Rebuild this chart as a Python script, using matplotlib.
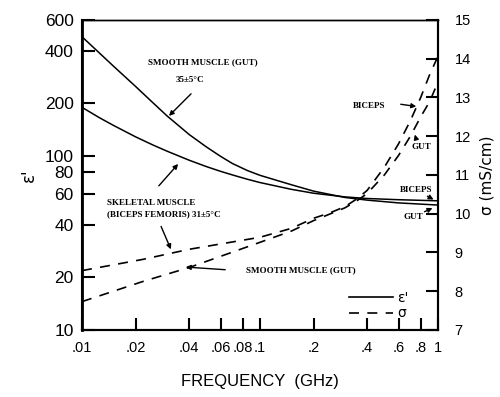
import matplotlib
matplotlib.use('Agg')
import matplotlib.pyplot as plt
from matplotlib.lines import Line2D

# permittivity eps' (left, log axis)
eps_freq = [0.01, 0.0125, 0.015, 0.02, 0.025, 0.03, 0.04, 0.05, 0.06,
            0.07, 0.085, 0.1, 0.15, 0.2, 0.3, 0.4, 0.6, 1.0]
eps_gut = [480, 388, 326, 249, 201, 169, 132, 112, 99,
           90, 82, 77, 68, 62.5, 57.5, 55.5, 53.5, 52]
eps_biceps = [189, 165, 149, 128, 115, 106, 94, 86.4, 81.2,
              77.4, 73.1, 70, 64, 60.8, 57.9, 56.7, 55.8, 55]

# conductivity sigma in mS/cm (right, linear axis)
sig_freq = [0.01, 0.022, 0.04, 0.1, 0.15, 0.2, 0.25, 0.3, 0.35, 0.4, 0.5, 0.6, 0.7, 0.8, 0.9, 1.0]
sig_biceps = [8.53, 8.82, 9.08, 9.39, 9.62, 9.88, 10.03, 10.18, 10.38, 10.6, 11.2, 11.8, 12.4, 13.0, 13.6, 14.06]
sig_gut = [7.73, 8.25, 8.61, 9.26, 9.55, 9.82, 10.0, 10.15, 10.33, 10.52, 11.0, 11.5, 12.0, 12.5, 12.9, 13.4]

xticks = [0.01, 0.02, 0.04, 0.06, 0.08, 0.1, 0.2, 0.4, 0.6, 0.8, 1.0]
xlabels = ['.01', '.02', '.04', '.06', '.08', '.1', '.2', '.4', '.6', '.8', '1']
eps_ticks = [10, 20, 40, 60, 80, 100, 200, 400, 600]
sig_ticks = [7, 8, 9, 10, 11, 12, 13, 14, 15]

sans = 'Liberation Sans'
serif = dict(family='Liberation Serif', fontsize=6.5, weight='bold')

fig = plt.figure(figsize=(5.0, 3.97), dpi=100)
ax = fig.add_axes([0.164, 0.169, 0.712, 0.781])
ax.set_xscale('log')
ax.set_yscale('log')
ax.set_xlim(0.01, 1.0)
ax.set_ylim(10, 600)

ax.plot(eps_freq, eps_gut, color='black', lw=1.1)
ax.plot(eps_freq, eps_biceps, color='black', lw=1.1)

ax.set_xticks(xticks)
ax.set_xticklabels(xlabels, family=sans, fontsize=10.5)
ax.set_yticks(eps_ticks)
ax.set_yticklabels([str(t) for t in eps_ticks], family=sans, fontsize=12.5)
ax.minorticks_off()
ax.tick_params(axis='both', direction='in', length=9, width=1.5, pad=6)
ax.tick_params(axis='x', pad=8)

ax2 = ax.twinx()
ax2.set_ylim(7, 15)
ax2.set_yticks(sig_ticks)
ax2.set_yticklabels([str(t) for t in sig_ticks], family=sans, fontsize=10.5)
ax2.tick_params(axis='y', direction='in', length=9, width=1.5, pad=12)
ax2.plot(sig_freq, sig_biceps, color='black', lw=1.2, ls=(0, (6, 5)))
ax2.plot(sig_freq, sig_gut, color='black', lw=1.2, ls=(0, (6, 5)))

for a in (ax, ax2):
    for s in a.spines.values():
        s.set_linewidth(1.5)
    a.spines['top'].set_linewidth(1.0)
ax.spines['left'].set_linewidth(2.0)

ax.set_ylabel("ε'", family='DejaVu Sans', fontsize=12, labelpad=5)
ax2.set_ylabel('σ (mS/cm)', family='DejaVu Sans', fontsize=11, labelpad=6)
ax.set_xlabel('FREQUENCY  (GHz)', family=sans, fontsize=12, labelpad=14)


def px(x, y):
    return ((x - 82) / 356.0, (330 - y) / 310.0)


arrow = dict(arrowstyle='-|>', color='black', lw=1.0, mutation_scale=7)

ax.text(*px(148, 62), 'SMOOTH MUSCLE (GUT)', transform=ax.transAxes, va='center', **serif)
ax.text(*px(176, 80), '35±5°C', transform=ax.transAxes, va='center', **serif)
ax.annotate('', xy=px(167, 118), xytext=px(193, 92), xycoords='axes fraction', arrowprops=arrow)

ax.text(*px(107, 203), 'SKELETAL MUSCLE', transform=ax.transAxes, va='center', **serif)
ax.text(*px(107, 214), '(BICEPS FEMORIS) 31±5°C', transform=ax.transAxes, va='center', **serif)
ax.annotate('', xy=px(180, 162), xytext=px(157, 188), xycoords='axes fraction', arrowprops=arrow)
ax.annotate('', xy=px(172, 252), xytext=px(160, 224), xycoords='axes fraction', arrowprops=arrow)

ax.text(*px(246, 270), 'SMOOTH MUSCLE (GUT)', transform=ax.transAxes, va='center', **serif)
ax.annotate('', xy=px(183, 267), xytext=px(228, 270), xycoords='axes fraction', arrowprops=arrow)

ax.text(*px(353, 106), 'BICEPS', transform=ax.transAxes, va='center', **serif)
ax.annotate('', xy=px(419, 107), xytext=px(398, 104), xycoords='axes fraction', arrowprops=arrow)
ax.text(*px(412, 147), 'GUT', transform=ax.transAxes, va='center', **serif)
ax.annotate('', xy=px(414, 132), xytext=px(417, 142), xycoords='axes fraction', arrowprops=arrow)

ax.text(*px(400, 190), 'BICEPS', transform=ax.transAxes, va='center', **serif)
ax.annotate('', xy=px(436, 201), xytext=px(425, 195), xycoords='axes fraction', arrowprops=arrow)
ax.text(*px(404, 217), 'GUT', transform=ax.transAxes, va='center', **serif)
ax.annotate('', xy=px(435, 207), xytext=px(422, 213), xycoords='axes fraction', arrowprops=arrow)

handles = [Line2D([], [], color='black', lw=1.2),
           Line2D([], [], color='black', lw=1.2, ls=(0, (6, 5)))]
ax.legend(handles, ["ε'", 'σ'], loc='lower left', bbox_to_anchor=px(336, 333),
          frameon=False, handlelength=3.2, handletextpad=0.3, labelspacing=0.1,
          prop=dict(family='DejaVu Sans', size=10))

fig.savefig('out.png', dpi=100)
